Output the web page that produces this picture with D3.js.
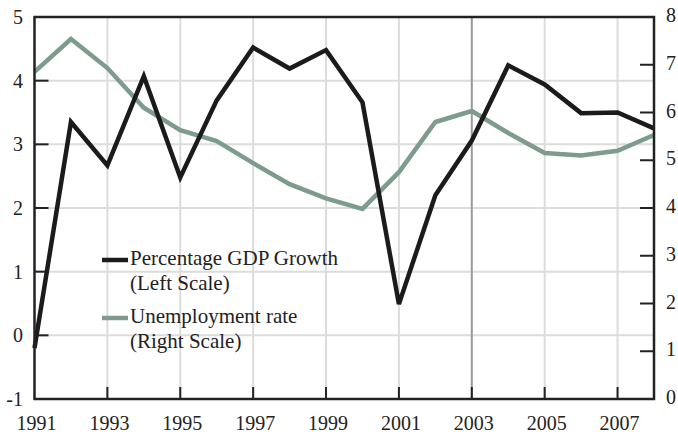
<!DOCTYPE html>
<html>
<head>
<meta charset="utf-8">
<script src="https://cdn.jsdelivr.net/npm/d3@7"></script>
<style>
  body { margin: 0; background: #fff; }
  text { font-family: "Liberation Serif", "DejaVu Serif", serif; fill: #222; }
</style>
</head>
<body>
<div id="chart"></div>
<script>
// years and the two series
var years = [1991, 1992, 1993, 1994, 1995, 1996, 1997, 1998, 1999, 2000, 2001, 2002, 2003, 2004, 2005, 2006, 2007, 2008];
var gdpGrowth = [-0.2, 3.35, 2.67, 4.07, 2.48, 3.69, 4.52, 4.19, 4.48, 3.66, 0.49, 2.2, 3.06, 4.24, 3.94, 3.49, 3.5, 3.25];
var unemployment = [6.85, 7.54, 6.93, 6.1, 5.63, 5.4, 4.94, 4.5, 4.2, 3.98, 4.75, 5.8, 6.03, 5.57, 5.15, 5.1, 5.2, 5.53];
var xTicks = [1991, 1993, 1995, 1997, 1999, 2001, 2003, 2005, 2007];
var leftTicks = [-1, 0, 1, 2, 3, 4, 5];
var rightTicks = [0, 1, 2, 3, 4, 5, 6, 7, 8];

var width = 678, height = 434;
// plot box (window.top is reserved, so use other names)
var plotLeft = 34.5, plotRight = 654, plotTop = 17, plotBottom = 399;

var svg = d3.select("#chart").append("svg").attr("width", width).attr("height", height);

var x = d3.scaleLinear().domain([1991, 2008]).range([plotLeft, plotRight]);
var yL = d3.scaleLinear().domain([-1, 5]).range([plotBottom, plotTop]);
var yR = d3.scaleLinear().domain([0, 8]).range([plotBottom, plotTop]);

// grid
svg.append("g").selectAll("line").data(leftTicks.slice(1, -1)).enter().append("line")
  .attr("x1", plotLeft).attr("x2", plotRight)
  .attr("y1", function(d) { return yL(d); }).attr("y2", function(d) { return yL(d); })
  .attr("stroke", "#dcdcdc").attr("stroke-width", 2);
svg.append("g").selectAll("line").data(xTicks.slice(1)).enter().append("line")
  .attr("x1", function(d) { return x(d); }).attr("x2", function(d) { return x(d); })
  .attr("y1", plotTop).attr("y2", plotBottom)
  .attr("stroke", function(d) { return d == 2003 ? "#999" : "#dcdcdc"; })
  .attr("stroke-width", 2);

// inner ticks
svg.append("g").selectAll("line").data(leftTicks.slice(1, -1)).enter().append("line")
  .attr("x1", plotLeft).attr("x2", plotLeft + 14)
  .attr("y1", function(d) { return yL(d); }).attr("y2", function(d) { return yL(d); })
  .attr("stroke", "#222").attr("stroke-width", 2);
svg.append("g").selectAll("line").data(rightTicks.slice(1, -1)).enter().append("line")
  .attr("x1", plotRight - 14).attr("x2", plotRight)
  .attr("y1", function(d) { return yR(d); }).attr("y2", function(d) { return yR(d); })
  .attr("stroke", "#222").attr("stroke-width", 2);
svg.append("g").selectAll("line").data(xTicks.slice(1)).enter().append("line")
  .attr("x1", function(d) { return x(d); }).attr("x2", function(d) { return x(d); })
  .attr("y1", plotBottom - 12).attr("y2", plotBottom)
  .attr("stroke", "#222").attr("stroke-width", 2);

// lines
var lineL = d3.line().x(function(d, i) { return x(years[i]); }).y(function(d) { return yL(d); });
var lineR = d3.line().x(function(d, i) { return x(years[i]); }).y(function(d) { return yR(d); });

svg.append("path").datum(unemployment).attr("d", lineR)
  .attr("fill", "none").attr("stroke", "#7d9c8d").attr("stroke-width", 4.5);
svg.append("path").datum(gdpGrowth).attr("d", lineL)
  .attr("fill", "none").attr("stroke", "#1c1a1a").attr("stroke-width", 4.5);

// frame
svg.append("rect").attr("x", plotLeft).attr("y", plotTop)
  .attr("width", plotRight - plotLeft).attr("height", plotBottom - plotTop)
  .attr("fill", "none").attr("stroke", "#222").attr("stroke-width", 2.5);

// labels
svg.append("g").selectAll("text").data(leftTicks).enter().append("text")
  .attr("x", 23).attr("y", function(d) { return yL(d) + 7; })
  .attr("text-anchor", "end").attr("font-size", 20)
  .text(function(d) { return d; });
svg.append("g").selectAll("text").data(rightTicks).enter().append("text")
  .attr("x", 666).attr("y", function(d) { return yR(d) + 5; })
  .attr("font-size", 20)
  .text(function(d) { return d; });
svg.append("g").selectAll("text").data(xTicks).enter().append("text")
  .attr("x", function(d) { return x(d) + 2; }).attr("y", 430)
  .attr("text-anchor", "middle").attr("font-size", 20)
  .text(function(d) { return d; });

// legend
var legend = [
  { color: "#1c1a1a", lines: ["Percentage GDP Growth", "(Left Scale)"], y: 260 },
  { color: "#7d9c8d", lines: ["Unemployment rate", "(Right Scale)"], y: 318 }
];
legend.forEach(function(l) {
  svg.append("line").attr("x1", 102).attr("x2", 128).attr("y1", l.y).attr("y2", l.y)
    .attr("stroke", l.color).attr("stroke-width", 4.5);
  l.lines.forEach(function(t, i) {
    svg.append("text").attr("x", 130).attr("y", l.y + 5 + i * 25)
      .attr("font-size", 21).text(t);
  });
});
</script>
</body>
</html>
